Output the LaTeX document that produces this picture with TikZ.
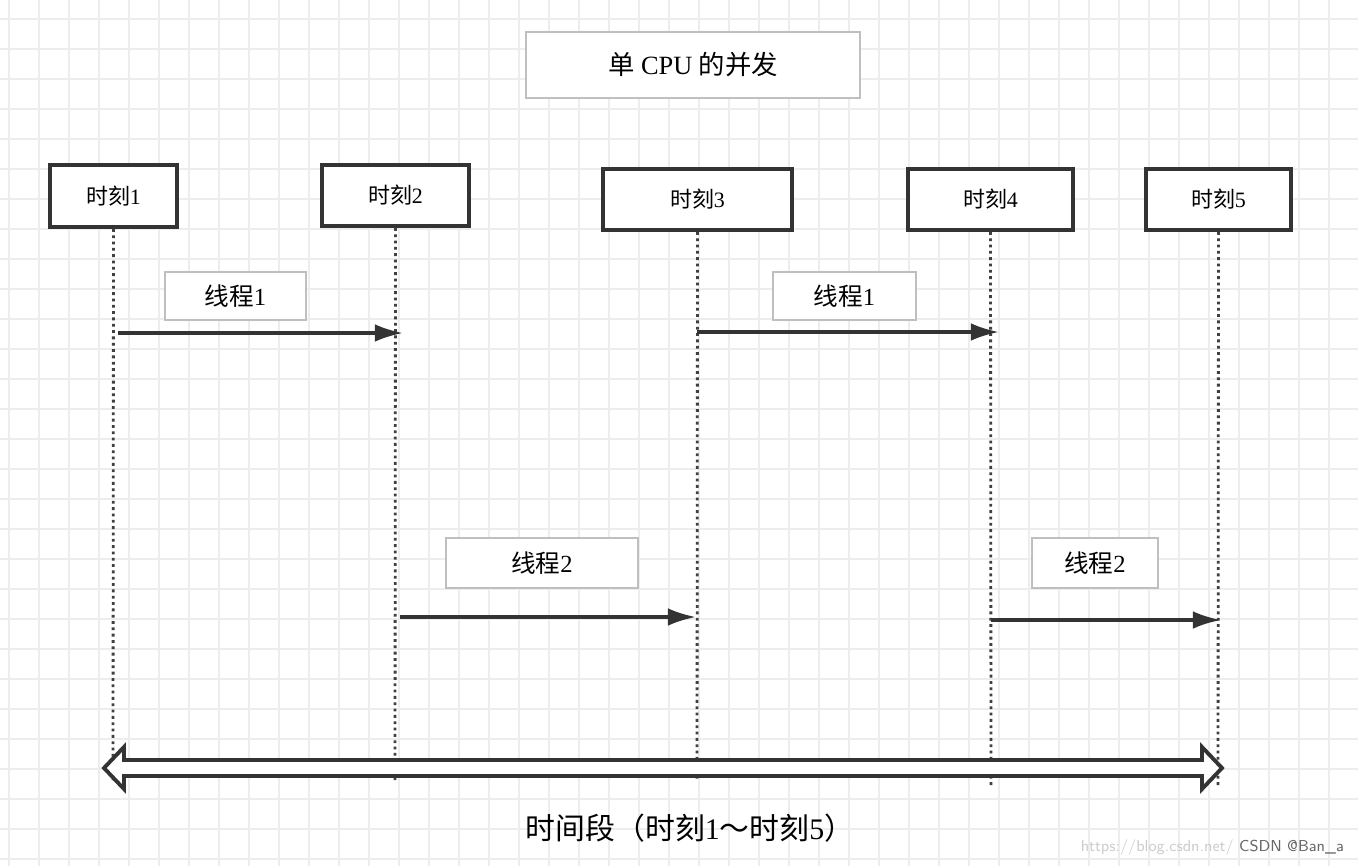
\documentclass[tikz,border=0pt]{standalone}
\usepackage{fontspec}
\setmainfont{Liberation Serif}
\newfontfamily\cjk{Noto Sans CJK SC}
\usetikzlibrary{arrows.meta}
\begin{document}
\begin{tikzpicture}[x=0.02cm,y=-0.02cm,
  tbox/.style={draw=black!80,line width=2.2pt,fill=white,font=\fontsize{12.5}{14}\selectfont,inner sep=0pt},
  gbox/.style={draw=black!25,line width=1.5pt,fill=white,font=\fontsize{14}{16}\selectfont,inner sep=0pt},
  life/.style={black!75,line width=1.6pt,dotted},
  msg/.style={black!80,line width=1.8pt,-{Latex[length=16pt,width=10pt]}}]
\useasboundingbox (0,0) rectangle (1358,866);
\fill[white] (0,0) rectangle (1358,866);
\foreach \x in {9,39,...,1358} \draw[black!7,line width=0.8pt] (\x,0) -- (\x,866);
\foreach \y in {19,49,...,866} \draw[black!7,line width=0.8pt] (0,\y) -- (1358,\y);
\node[gbox,minimum width=334*0.02cm,minimum height=66*0.02cm,font=\fontsize{15}{17}\selectfont] (title) at (693,65) {{\cjk 单} CPU {\cjk 的并发}};
\node[tbox,minimum width=127*0.02cm,minimum height=62*0.02cm] (t1) at (113.5,196) {{\cjk 时刻}1};
\node[tbox,minimum width=147*0.02cm,minimum height=61*0.02cm] (t2) at (395.5,195.5) {{\cjk 时刻}2};
\node[tbox,minimum width=189*0.02cm,minimum height=61*0.02cm] (t3) at (697.5,199.5) {{\cjk 时刻}3};
\node[tbox,minimum width=165*0.02cm,minimum height=61*0.02cm] (t4) at (990.5,199.5) {{\cjk 时刻}4};
\node[tbox,minimum width=145*0.02cm,minimum height=61*0.02cm] (t5) at (1218.5,199.5) {{\cjk 时刻}5};
\coordinate (e1) at (113,780); \coordinate (e2) at (395,780); \coordinate (e3) at (697,780);
\coordinate (e4) at (991,785); \coordinate (e5) at (1218,785);
\draw[life] (t1.south) -- (e1); \draw[life] (t2.south) -- (e2); \draw[life] (t3.south) -- (e3);
\draw[life] (t4.south) -- (e4); \draw[life] (t5.south) -- (e5);
\node[gbox,minimum width=141*0.02cm,minimum height=48*0.02cm] (l1) at (235.5,296) {{\cjk 线程}1};
\node[gbox,minimum width=143*0.02cm,minimum height=48*0.02cm] (l2) at (844.5,296) {{\cjk 线程}1};
\node[gbox,minimum width=192*0.02cm,minimum height=50*0.02cm] (l3) at (542,563) {{\cjk 线程}2};
\node[gbox,minimum width=126*0.02cm,minimum height=50*0.02cm] (l4) at (1095,563) {{\cjk 线程}2};
\coordinate (a1s) at (118,333); \coordinate (a1e) at (403,333);
\coordinate (a2s) at (697,332); \coordinate (a2e) at (999,332);
\coordinate (a3s) at (400,617); \coordinate (a3e) at (696,617);
\coordinate (a4s) at (991,620); \coordinate (a4e) at (1221,620);
\draw[msg] (a1s) -- (a1e); \draw[msg] (a2s) -- (a2e);
\draw[msg] (a3s) -- (a3e); \draw[msg] (a4s) -- (a4e);
\draw[black!80,line width=2.2pt,fill=white,line join=miter]
 (104,768) -- (124,747) -- (124,760) -- (1202,760) -- (1202,747) -- (1222,768)
 -- (1202,789) -- (1202,776) -- (124,776) -- (124,789) -- cycle;
\node[font=\fontsize{17}{19}\selectfont] (span) at (690,828) {{\cjk 时间段（时刻}1{\cjk ～时刻}5{\cjk ）}};
\node[font=\fontsize{9}{10}\selectfont\sffamily,text=black!20,anchor=east] (wm) at (1350,848) {https://blog.csdn.net/ \textcolor{black!60}{CSDN @Ban\_a}};
\end{tikzpicture}
\end{document}
